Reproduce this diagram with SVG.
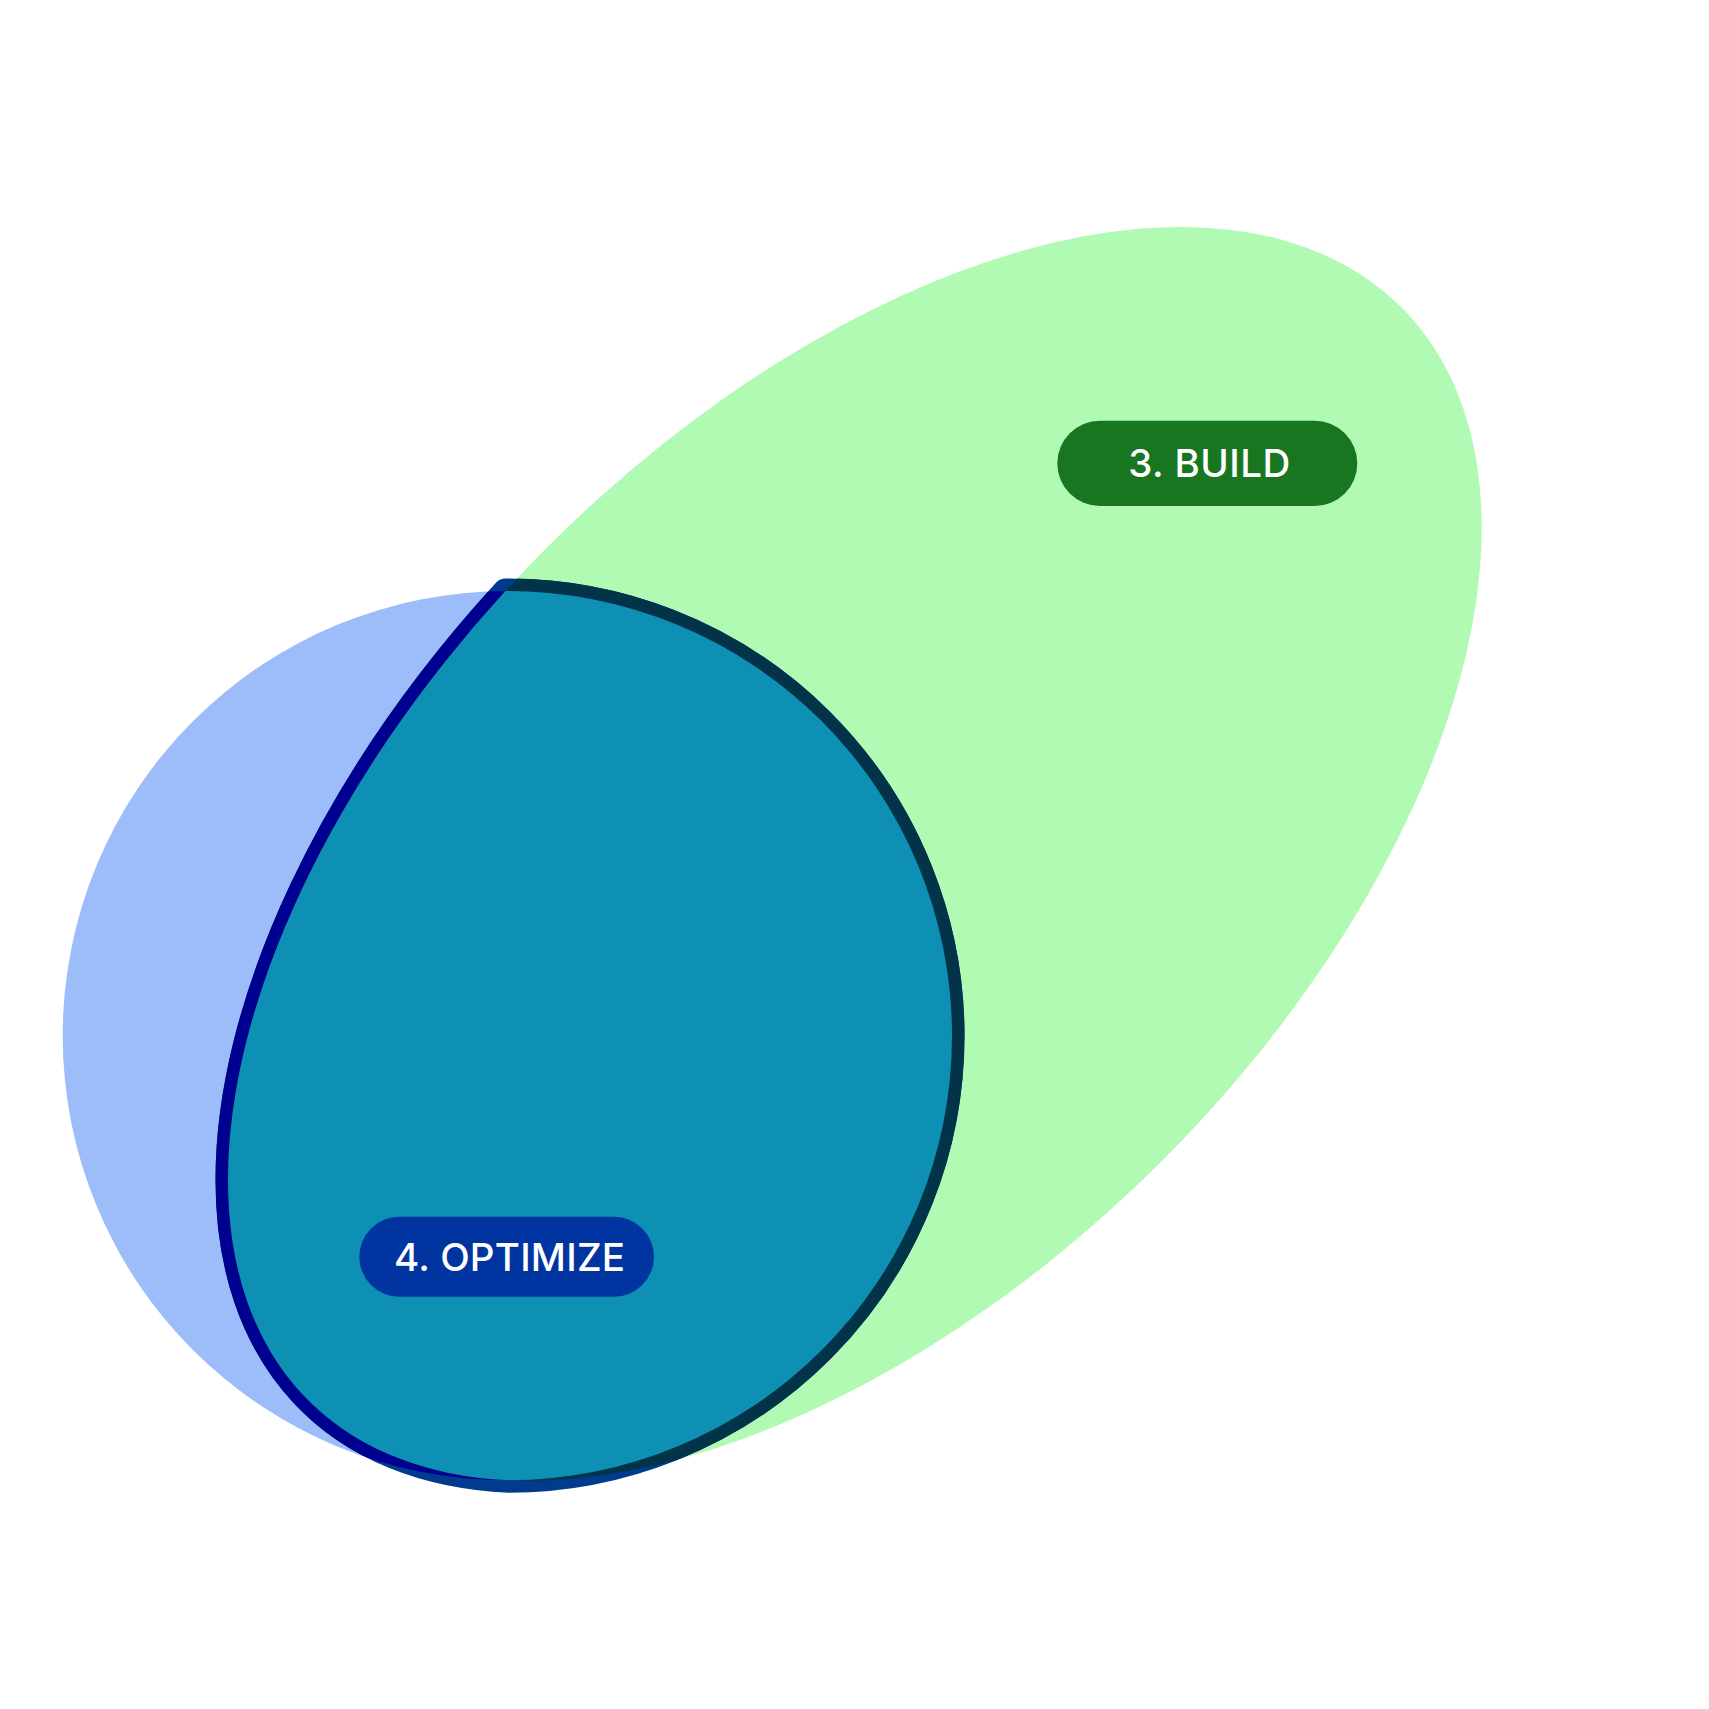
<svg xmlns="http://www.w3.org/2000/svg" width="1709" height="1709" viewBox="0 0 1709 1709">
  <style>
    .lbl { font-family: Inter, "Open Sans", "Liberation Sans", sans-serif; font-size: 38.5px; font-weight: 500; fill: #ffffff; text-anchor: middle; }
    .edge { fill: none; stroke-width: 25; stroke-linejoin: round; }
  </style>
  <defs>
    <path id="overlap" d="M 505.4 591.0 A 444.65 444.65 0 0 1 952 1035.65 A 444.65 444.65 0 0 1 509 1480.3 A 772.85 434.27 -45 0 1 228.0 1179.85 A 772.85 434.27 -45 0 1 505.4 591.0 Z"/>
    <clipPath id="clipCircle">
      <circle cx="507.35" cy="1035.65" r="444.65"/>
    </clipPath>
    <clipPath id="clipEllipse">
      <ellipse cx="854.85" cy="853.85" rx="772.85" ry="434.27" transform="rotate(-45 854.85 853.85)"/>
    </clipPath>
  </defs>
  <rect width="1709" height="1709" fill="#ffffff"/>
  <g id="ellipse-build">
    <ellipse cx="854.85" cy="853.85" rx="772.85" ry="434.27" transform="rotate(-45 854.85 853.85)" fill="#b1fab4"/>
  </g>
  <g id="circle-optimize">
    <circle cx="507.35" cy="1035.65" r="444.65" fill="#9cbdf9"/>
  </g>
  <g id="overlap-highlight">
    <use href="#overlap" class="edge" stroke="#003b8e"/>
    <use href="#overlap" class="edge" stroke="#000090" clip-path="url(#clipCircle)"/>
    <use href="#overlap" class="edge" stroke="#023349" clip-path="url(#clipEllipse)"/>
    <use href="#overlap" fill="#0d90b3"/>
  </g>
  <g id="connectors"/>
  <g id="label-build">
    <rect x="1057.3" y="420.7" width="300" height="85.3" rx="42.65" fill="#187520"/>
    <text class="lbl" x="1209.2" y="477.3" textLength="162" lengthAdjust="spacing">3. BUILD</text>
  </g>
  <g id="label-optimize">
    <rect x="359.3" y="1216.7" width="294.7" height="80" rx="40" fill="#0034a0"/>
    <text class="lbl" x="509.5" y="1271" textLength="231" lengthAdjust="spacing">4. OPTIMIZE</text>
  </g>
</svg>
